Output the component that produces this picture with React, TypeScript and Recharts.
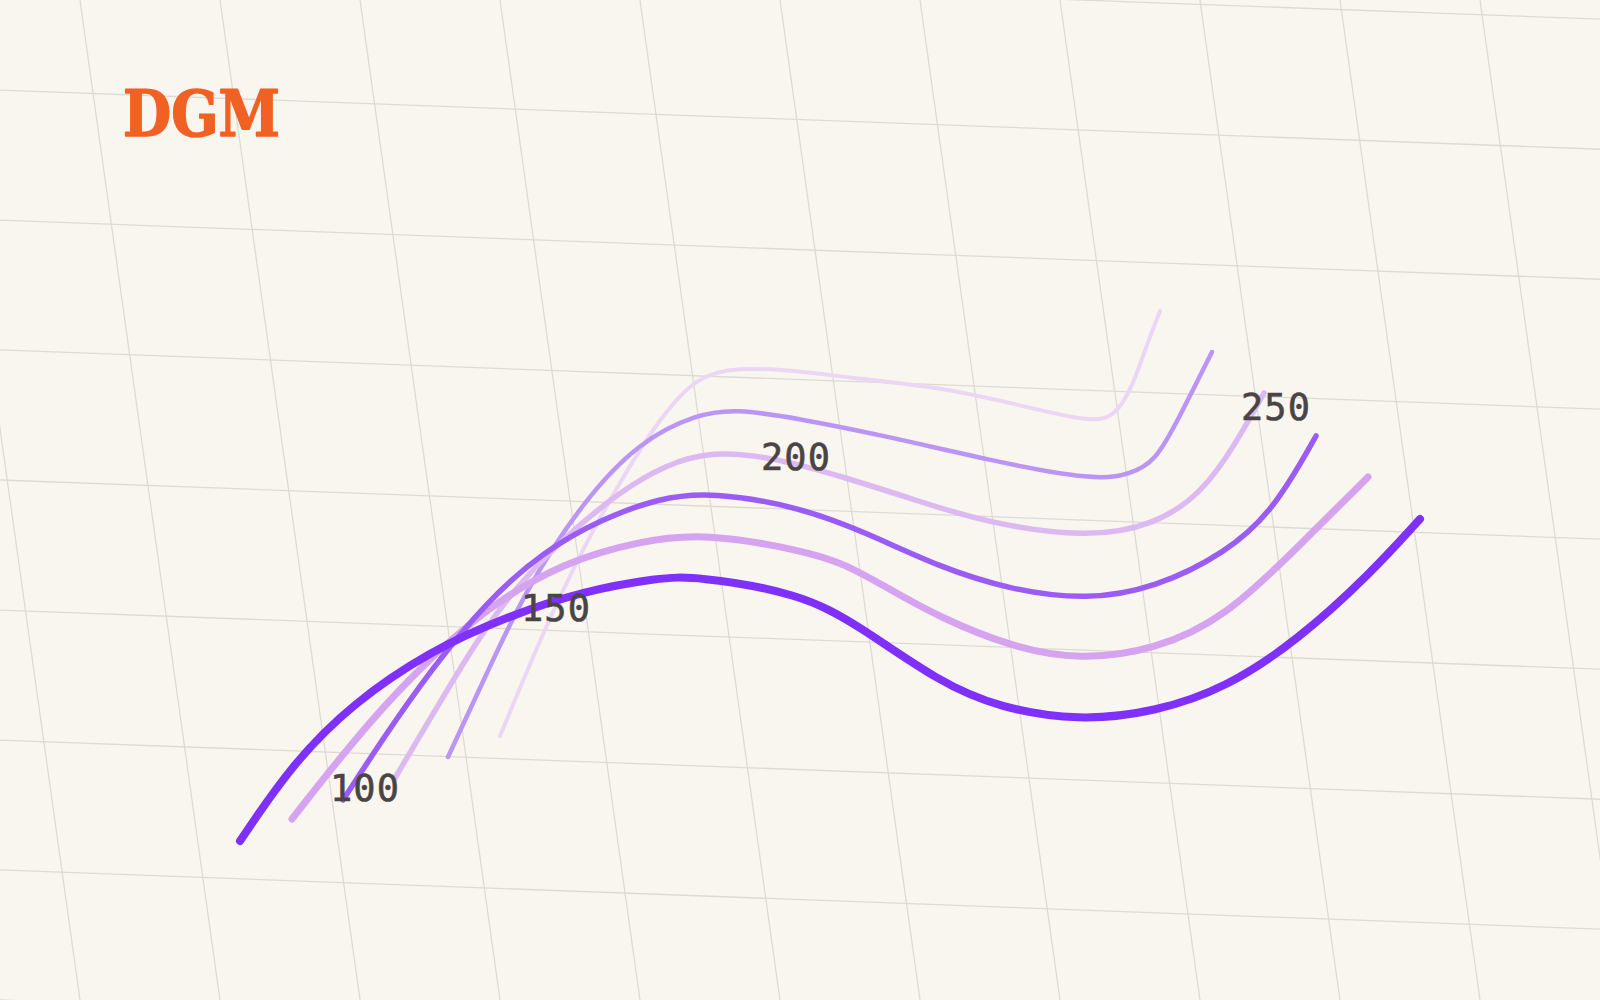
import React from 'react';
import { LineChart, Line, XAxis, YAxis, CartesianGrid, ReferenceDot } from 'recharts';

type Pt = { x: number; y: number };

// curve points (x right, y down, in px of a 1600x1000 frame)
const seriesA: Pt[] = [
  { x: 240, y: 841 }, { x: 292, y: 764 }, { x: 353, y: 703 }, { x: 430, y: 651 },
  { x: 506, y: 617 }, { x: 583, y: 591 }, { x: 659, y: 578 }, { x: 694, y: 576 },
  { x: 800, y: 593 }, { x: 858, y: 625 }, { x: 939, y: 682 }, { x: 1000, y: 708 },
  { x: 1079, y: 721 }, { x: 1155, y: 712 }, { x: 1226, y: 688 }, { x: 1298, y: 640 },
  { x: 1370, y: 574 }, { x: 1420, y: 519 },
];
const seriesB: Pt[] = [
  { x: 292, y: 819 }, { x: 353, y: 741 }, { x: 414, y: 673 }, { x: 487, y: 607 },
  { x: 564, y: 562 }, { x: 640, y: 541 }, { x: 705, y: 533 }, { x: 800, y: 550 },
  { x: 844, y: 563 }, { x: 891, y: 590 }, { x: 939, y: 617 }, { x: 1011, y: 647 },
  { x: 1080, y: 660 }, { x: 1155, y: 650 }, { x: 1226, y: 617 }, { x: 1298, y: 547 },
  { x: 1368, y: 477 },
];
const seriesC: Pt[] = [
  { x: 343, y: 800 }, { x: 384, y: 737 }, { x: 430, y: 671 }, { x: 487, y: 601 },
  { x: 544, y: 551 }, { x: 602, y: 519 }, { x: 659, y: 498 }, { x: 712, y: 492 },
  { x: 800, y: 507 }, { x: 867, y: 533 }, { x: 939, y: 567 }, { x: 1011, y: 590 },
  { x: 1087, y: 600 }, { x: 1155, y: 588 }, { x: 1226, y: 553 }, { x: 1274, y: 510 },
  { x: 1316, y: 436 },
];
const seriesD: Pt[] = [
  { x: 395, y: 778 }, { x: 430, y: 719 }, { x: 468, y: 655 }, { x: 506, y: 598 },
  { x: 564, y: 537 }, { x: 621, y: 491 }, { x: 665, y: 465 }, { x: 712, y: 451 },
  { x: 772, y: 457 }, { x: 844, y: 477 }, { x: 915, y: 500 }, { x: 987, y: 523 },
  { x: 1087, y: 538 }, { x: 1155, y: 525 }, { x: 1202, y: 493 }, { x: 1235, y: 445 },
  { x: 1264, y: 393 },
];
const seriesE: Pt[] = [
  { x: 448, y: 757 }, { x: 487, y: 673 }, { x: 525, y: 591 }, { x: 583, y: 501 },
  { x: 640, y: 441 }, { x: 697, y: 414 }, { x: 736, y: 409 }, { x: 796, y: 418 },
  { x: 891, y: 437 }, { x: 987, y: 460 }, { x: 1097, y: 481 }, { x: 1130, y: 474 },
  { x: 1155, y: 462 }, { x: 1178, y: 420 }, { x: 1212, y: 352 },
];
const seriesF: Pt[] = [
  { x: 500, y: 736 }, { x: 544, y: 630 }, { x: 583, y: 548 }, { x: 621, y: 480 },
  { x: 659, y: 419 }, { x: 697, y: 376 }, { x: 736, y: 367 }, { x: 800, y: 371 },
  { x: 843, y: 377 }, { x: 939, y: 387 }, { x: 1011, y: 403 }, { x: 1092, y: 423 },
  { x: 1115, y: 416 }, { x: 1132, y: 388 }, { x: 1146, y: 347 }, { x: 1160, y: 311 },
];

// drawn back to front
const curves = [
  { name: 'f', data: seriesF, color: '#ebd6f5', width: 4 },
  { name: 'e', data: seriesE, color: '#ba95f5', width: 4.5 },
  { name: 'd', data: seriesD, color: '#ddb9f1', width: 5.5 },
  { name: 'b', data: seriesB, color: '#d5a3f0', width: 7 },
  { name: 'c', data: seriesC, color: '#9b5cf6', width: 5.5 },
  { name: 'a', data: seriesA, color: '#8030fb', width: 8 },
];

const tickLabels = ['100', '150', '200', '250'];
const tickX = [365, 556, 796, 1276];
const tickY = [788, 608, 457, 407];

// grid before the skew is applied
const gridCols = [-60.3, 80.4, 221.2, 361.9, 502.6, 643.3, 784.1, 924.8, 1065.5, 1206.2, 1347.0, 1487.7, 1628.4];
const gridRows = [-40.2, 90.5, 221.2, 351.8, 482.5, 613.2, 743.9, 874.5, 1005.2];

const BG = '#f9f6f0';

const SkewGrid = () => (
  <div
    style={{
      position: 'absolute',
      left: -200,
      top: -100,
      width: 1900,
      height: 1200,
      transformOrigin: '200px 100px',
      transform: 'matrix(1, 0.037, 0.14, 1, 0, 0)',
    }}
  >
    <LineChart width={1900} height={1200} margin={{ top: 0, right: 0, bottom: 0, left: 0 }}>
      <XAxis type="number" dataKey="x" domain={[-200, 1700]} ticks={gridCols} hide allowDataOverflow />
      <YAxis type="number" domain={[-100, 1100]} ticks={gridRows} reversed hide allowDataOverflow />
      <CartesianGrid stroke="#dedad3" strokeWidth={1.3} verticalValues={gridCols} horizontalValues={gridRows} />
    </LineChart>
  </div>
);

export default function App() {
  return (
    <div style={{ position: 'absolute', left: 0, top: 0, width: 1600, height: 1000, overflow: 'hidden', background: BG }}>
      <SkewGrid />
      <div style={{ position: 'absolute', left: 0, top: 0 }}>
        <LineChart width={1600} height={1000} margin={{ top: 0, right: 0, bottom: 0, left: 0 }}>
          <XAxis type="number" dataKey="x" domain={[0, 1600]} hide allowDataOverflow />
          <YAxis type="number" domain={[0, 1000]} reversed hide allowDataOverflow />
          {curves.map((c) => (
            <Line
              key={c.name}
              data={c.data}
              dataKey="y"
              type="basis"
              stroke={c.color}
              strokeWidth={c.width}
              strokeLinecap="round"
              dot={false}
              activeDot={false}
              isAnimationActive={false}
            />
          ))}
          {tickLabels.map((t, i) => (
            <ReferenceDot
              key={t}
              x={tickX[i]}
              y={tickY[i]}
              r={0}
              shape={(p: any) => (
                <text
                  x={p.cx}
                  y={p.cy}
                  textAnchor="middle"
                  dominantBaseline="central"
                  fontFamily="'DejaVu Sans Mono', monospace"
                  fontSize={37}
                  letterSpacing={1}
                  fill="#4b4444"
                  stroke="#4b4444"
                  strokeWidth={0.6}
                >
                  {t}
                </text>
              )}
            />
          ))}
        </LineChart>
      </div>
      <svg width={400} height={200} style={{ position: 'absolute', left: 0, top: 0 }}>
        <text
          x={123}
          y={136}
          fontFamily="'DejaVu Serif', serif"
          fontWeight="bold"
          fontSize={63}
          fill="#f26124"
          stroke="#f26124"
          strokeWidth={1.6}
          strokeLinejoin="round"
          textLength={157}
          lengthAdjust="spacingAndGlyphs"
        >
          DGM
        </text>
      </svg>
    </div>
  );
}
